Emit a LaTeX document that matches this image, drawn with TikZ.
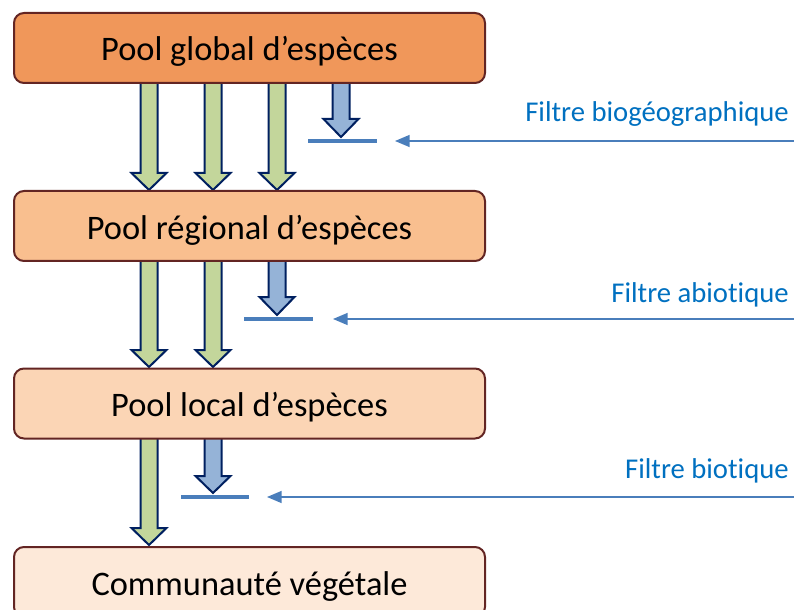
\documentclass[tikz,border=0pt]{standalone}
\usepackage{fontspec}
\setmainfont{Carlito}[Ligatures={NoCommon,NoContextual}]
\usetikzlibrary{arrows.meta}
\definecolor{cglobal}{HTML}{F0975A}
\definecolor{cregion}{HTML}{F9BF8F}
\definecolor{clocal}{HTML}{FBD5B5}
\definecolor{ccomm}{HTML}{FDE9D9}
\definecolor{cborder}{HTML}{632523}
\definecolor{cgreen}{HTML}{C3D69B}
\definecolor{cblue}{HTML}{95B3D7}
\definecolor{cnavy}{HTML}{002060}
\definecolor{cline}{HTML}{4A7EBB}
\definecolor{ctext}{HTML}{0070C0}
\newcommand\blockarr[5]{%
  \draw[blockline, fill=#5] (#1-8.5,#2) -- (#1+8.5,#2) -- (#1+8.5,#3) -- (#1+17.5,#3) -- (#1,#4) -- (#1-17.5,#3) -- (#1-8.5,#3) -- cycle;}
\begin{document}
\begin{tikzpicture}[x=0.75pt,y=-0.75pt,
  poolbox/.style={draw=cborder, line width=1.5pt, rounded corners=7.5pt, minimum width=353.25pt, minimum height=52.5pt, inner sep=0pt},
  pooltext/.style={anchor=base, font=\fontsize{25.8}{30}\selectfont, inner sep=0pt},
  blockline/.style={draw=cnavy, line width=1.5pt, line join=miter},
  filterbar/.style={draw=cline, line width=2.4pt},
  pointer/.style={draw=cline, line width=1.1pt, -{Triangle[length=11pt,width=9pt]}},
  filtertext/.style={anchor=base east, text=ctext, font=\fontsize{21.5}{26}\selectfont, inner sep=0pt}]
\useasboundingbox (0,0) rectangle (794,610);
\clip (0,0) rectangle (794,610);
% stage 1 arrows
\blockarr{149}{80}{173}{190}{cgreen}
\blockarr{213}{80}{173}{190}{cgreen}
\blockarr{277}{80}{173}{190}{cgreen}
\blockarr{341}{80}{119}{137}{cblue}
% stage 2 arrows
\blockarr{149}{258}{350}{367}{cgreen}
\blockarr{213}{258}{350}{367}{cgreen}
\blockarr{277}{258}{297}{315}{cblue}
% stage 3 arrows
\blockarr{149}{436}{528}{545}{cgreen}
\blockarr{213}{436}{476}{493}{cblue}
% boxes
\node[poolbox, fill=cglobal] (global) at (249.5,48) {};
\node[poolbox, fill=cregion] (region) at (249.5,226) {};
\node[poolbox, fill=clocal] (local) at (249.5,403.5) {};
\node[poolbox, fill=ccomm] (comm) at (249.5,582) {};
\node[pooltext] (globalt) at (249.5,61) {Pool global d’espèces};
\node[pooltext] (regiont) at (249.5,239) {Pool régional d’espèces};
\node[pooltext] (localt) at (249.5,416) {Pool local d’espèces};
\node[pooltext] (commt) at (249.5,595) {Communauté végétale};
% filters
\coordinate (b1a) at (308,141); \coordinate (b1b) at (377,141);
\coordinate (b2a) at (244,319); \coordinate (b2b) at (313,319);
\coordinate (b3a) at (181,497); \coordinate (b3b) at (249,497);
\draw[filterbar] (b1a) -- (b1b);
\draw[filterbar] (b2a) -- (b2b);
\draw[filterbar] (b3a) -- (b3b);
\coordinate (p1s) at (795,141); \coordinate (p1e) at (395,141);
\coordinate (p2s) at (795,319); \coordinate (p2e) at (333,319);
\coordinate (p3s) at (795,497); \coordinate (p3e) at (267,497);
\draw[pointer] (p1s) -- (p1e);
\draw[pointer] (p2s) -- (p2e);
\draw[pointer] (p3s) -- (p3e);
\node[filtertext] (f1) at (789,122) {Filtre biogéographique};
\node[filtertext] (f2) at (789,302) {Filtre abiotique};
\node[filtertext] (f3) at (789,478) {Filtre biotique};
\end{tikzpicture}
\end{document}
